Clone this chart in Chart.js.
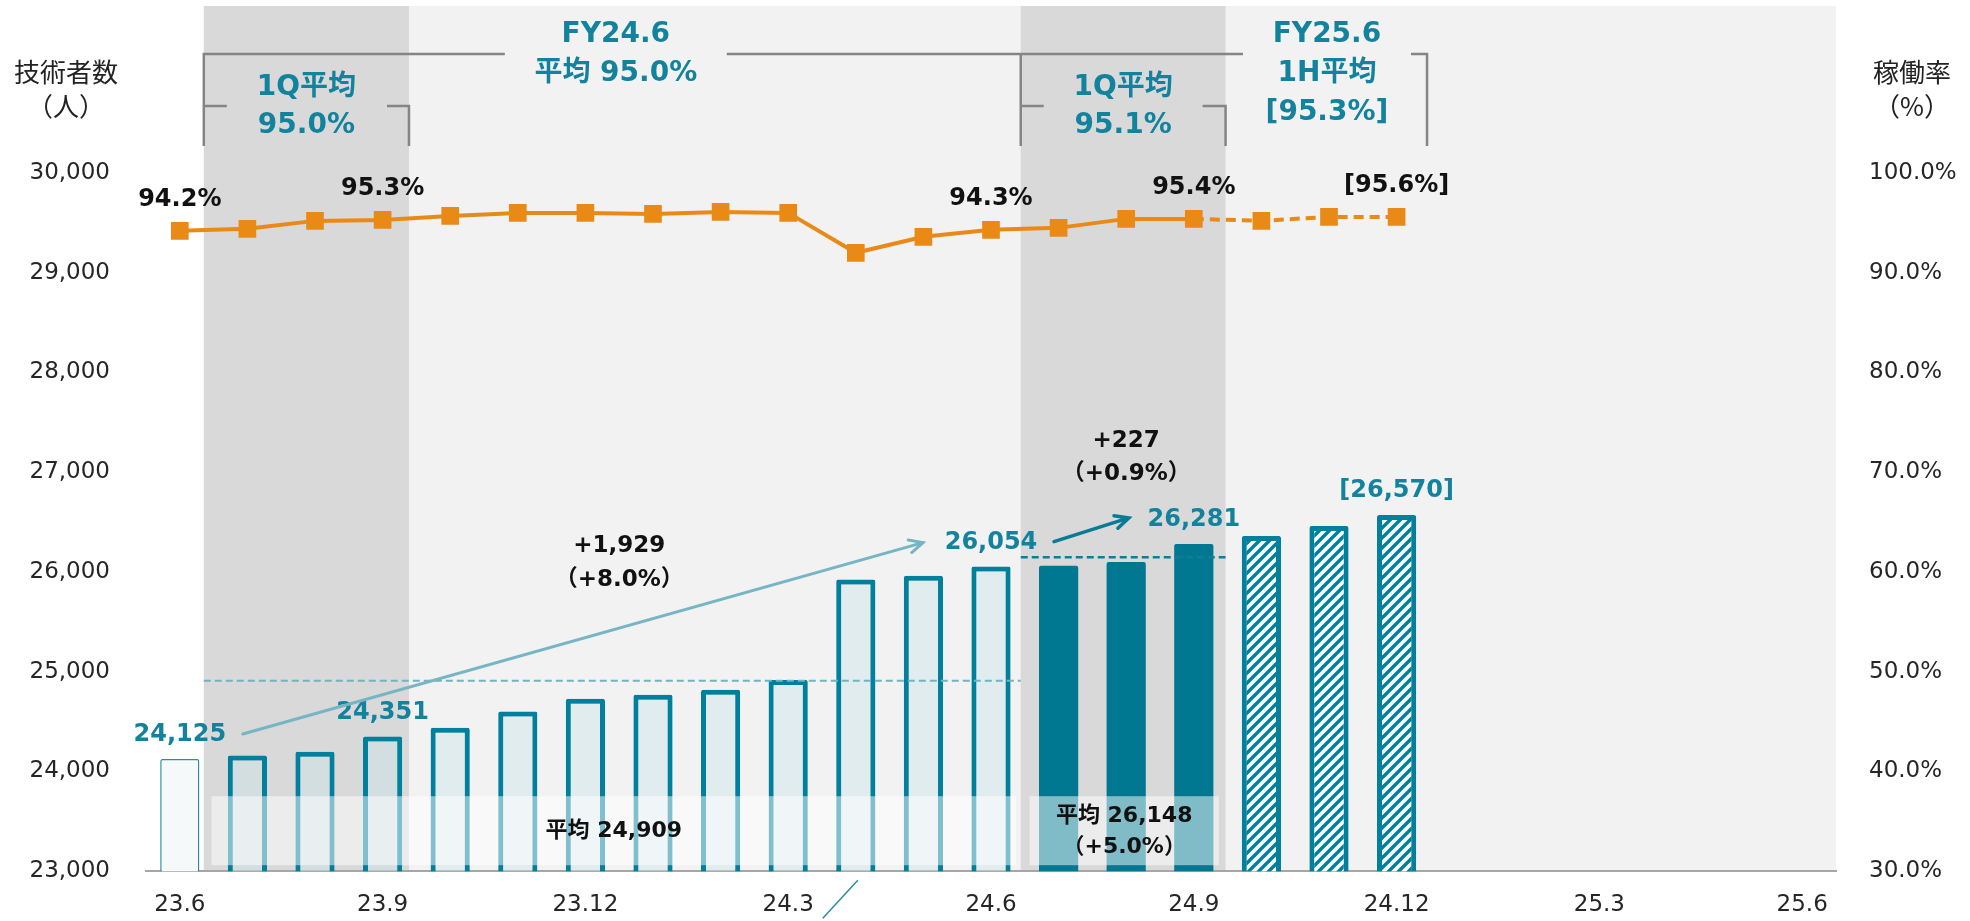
<!DOCTYPE html>
<html>
<head>
<meta charset="utf-8">
<script src="https://cdn.jsdelivr.net/npm/chart.js@4"></script>
<style>
  html, body { margin: 0; padding: 0; background: #fff; }
  #wrap { width: 1970px; height: 921px; }
</style>
</head>
<body>
<div id="wrap"><canvas id="c" width="1970" height="921"></canvas></div>
<script>
// 月次ラベル（23.6〜25.6）
const months = ['23.6', '23.7', '23.8', '23.9', '23.10', '23.11', '23.12', '24.1', '24.2', '24.3',
  '24.4', '24.5', '24.6', '24.7', '24.8', '24.9', '24.10', '24.11', '24.12',
  '25.1', '25.2', '25.3', '25.4', '25.5', '25.6'];

// 技術者数（人）: 24.10〜24.12 は見込み
const engineers = [24125, 24161, 24198, 24351, 24438, 24601, 24730, 24768, 24818, 24918,
  25924, 25961, 26054, 26062, 26101, 26281, 26361, 26461, 26570];

// 稼働率（%）: 24.10〜24.12 は見込み
const utilization = [94.2, 94.4, 95.2, 95.3, 95.7, 96.0, 96.0, 95.9, 96.1, 96.0,
  92.0, 93.6, 94.3, 94.5, 95.4, 95.4, 95.2, 95.6, 95.6];

const countTicks = [23000, 24000, 25000, 26000, 27000, 28000, 29000, 30000];
const rateTicks = [30, 40, 50, 60, 70, 80, 90, 100];

// 平均値（期間の開始・終了インデックス）
const avgFY24 = { from: 1, to: 12, value: 24909, label: ['平均 24,909'] };
const avg1H = { from: 13, to: 15, value: 26148, label: ['平均 26,148', '（+5.0%）'] };

const bracketFY24 = ['FY24.6', '平均 95.0%'];
const bracket1Q24 = ['1Q平均', '95.0%'];
const bracket1Q25 = ['1Q平均', '95.1%'];
const bracketFY25 = ['FY25.6', '1H平均', '[95.3%]'];

const countLabelIdx = [0, 3, 12, 15, 18];
const rateLabelIdx = [0, 3, 12, 15, 18];
const firstForecast = 16;

const TEAL = '#00809C';
const TEAL_FILL = '#007891';
const TEAL_TEXT = '#12829D';
const ORANGE = '#E98A17';
const BRACKET = '#858585';
const INK = '#111111';

const F = (size, bold) => (bold ? 'bold ' : '') + size + 'px "DejaVu Sans", "Noto Sans CJK JP", sans-serif';

// 斜線ハッチ（見込み）
const canvas = document.getElementById('c');
const hatch = (function () {
  const c = document.createElement('canvas');
  c.width = 10; c.height = 10;
  const g = c.getContext('2d');
  g.fillStyle = '#ffffff';
  g.fillRect(0, 0, 10, 10);
  g.strokeStyle = TEAL;
  g.lineWidth = 3.4;
  g.beginPath();
  g.moveTo(-5, 5); g.lineTo(5, -5);
  g.moveTo(0, 10); g.lineTo(10, 0);
  g.moveTo(5, 15); g.lineTo(15, 5);
  g.stroke();
  return canvas.getContext('2d').createPattern(c, 'repeat');
})();

const barBg = engineers.map((v, i) => {
  if (i === 0) return '#F5F9FA';
  if (i <= 12) return 'rgba(205,228,234,0.45)';
  if (i < firstForecast) return TEAL_FILL;
  return hatch;
});
const barBorderW = engineers.map((v, i) => i === 0 ? 1.5 : (i > 12 && i < firstForecast ? 0 : 5));
const barBorderC = engineers.map((v, i) => i === 0 ? '#2A8CA5' : TEAL);

function txt(ctx, s, x, y, font, color, align) {
  ctx.font = font;
  ctx.fillStyle = color;
  ctx.textAlign = align || 'center';
  ctx.textBaseline = 'middle';
  ctx.fillText(s, x, y);
}

function arrow(ctx, x1, y1, x2, y2, color, w) {
  const a = Math.atan2(y2 - y1, x2 - x1);
  const L = 15;
  ctx.save();
  ctx.strokeStyle = color;
  ctx.lineWidth = w;
  ctx.lineCap = 'round';
  ctx.beginPath();
  ctx.moveTo(x1, y1); ctx.lineTo(x2, y2);
  ctx.moveTo(x2 - L * Math.cos(a - 0.45), y2 - L * Math.sin(a - 0.45));
  ctx.lineTo(x2, y2);
  ctx.lineTo(x2 - L * Math.cos(a + 0.45), y2 - L * Math.sin(a + 0.45));
  ctx.stroke();
  ctx.restore();
}

function line(ctx, pts, color, w, dash) {
  ctx.save();
  ctx.strokeStyle = color;
  ctx.lineWidth = w;
  ctx.setLineDash(dash || []);
  ctx.beginPath();
  ctx.moveTo(pts[0], pts[1]);
  for (let i = 2; i < pts.length; i += 2) ctx.lineTo(pts[i], pts[i + 1]);
  ctx.stroke();
  ctx.restore();
}

// 網掛け・注記・括弧
const decor = {
  id: 'decor',
  geo(chart) {
    const x = chart.scales.x;
    const cw = x.getPixelForValue(1) - x.getPixelForValue(0);
    const px = f => x.getPixelForValue(0) + f * cw;
    return { px, e0: px(0.355), e1: px(3.39), e2: px(12.44), e3: px(15.47), e4: px(18.45) };
  },
  beforeDraw(chart) {
    const { ctx, chartArea: a } = chart;
    const g = this.geo(chart);
    ctx.save();
    ctx.fillStyle = '#F2F2F2';
    ctx.fillRect(g.e0, 6, a.right - g.e0, a.bottom - 6);
    ctx.fillStyle = '#D9D9D9';
    ctx.fillRect(g.e0, 6, g.e1 - g.e0, a.bottom - 6);
    ctx.fillRect(g.e2, 6, g.e3 - g.e2, a.bottom - 6);
    ctx.restore();
  },
  afterDatasetsDraw(chart) {
    const { ctx, chartArea: a, scales: { x, y, y1 } } = chart;
    const g = this.geo(chart);

    // 平均ボックス
    ctx.save();
    ctx.fillStyle = 'rgba(255,255,255,0.5)';
    ctx.fillRect(g.px(0.47), a.bottom - 75, g.px(12.37) - g.px(0.47), 69);
    ctx.fillRect(g.px(12.57), a.bottom - 75, g.px(15.37) - g.px(12.57), 69);
    ctx.restore();
    txt(ctx, avgFY24.label[0], (g.px(0.47) + g.px(12.37)) / 2, a.bottom - 40, F(22, true), INK);
    const c2 = (g.px(12.57) + g.px(15.37)) / 2;
    txt(ctx, avg1H.label[0], c2, a.bottom - 55, F(22, true), INK);
    txt(ctx, avg1H.label[1], c2, a.bottom - 24, F(22, true), INK);

    // 平均線
    line(ctx, [g.e0, y.getPixelForValue(avgFY24.value), g.e2, y.getPixelForValue(avgFY24.value)], '#72B3C2', 2, [7, 4]);
    line(ctx, [g.e2, y.getPixelForValue(avg1H.value), g.e3, y.getPixelForValue(avg1H.value)], '#0E7E98', 2.5, [7, 4]);

    // 技術者数ラベル
    const ly = i => y.getPixelForValue(engineers[i]) - 24;
    countLabelIdx.forEach(i => {
      const v = engineers[i].toLocaleString('en-US');
      const s = i >= firstForecast ? '[' + v + ']' : v;
      txt(ctx, s, x.getPixelForValue(i), ly(i), F(24, true), TEAL_TEXT);
    });

    // 稼働率ラベル
    rateLabelIdx.forEach(i => {
      const v = utilization[i].toFixed(1) + '%';
      const s = i >= firstForecast ? '[' + v + ']' : v;
      txt(ctx, s, x.getPixelForValue(i), y1.getPixelForValue(utilization[i]) - 31, F(24, true), INK);
    });

    // 増加矢印
    arrow(ctx, x.getPixelForValue(0) + 63, ly(0) - 1, x.getPixelForValue(12) - 68, ly(12), '#76B5C3', 3);
    arrow(ctx, x.getPixelForValue(12) + 63, ly(12) - 1, x.getPixelForValue(15) - 65, ly(15) - 2, '#0B7A94', 3.5);

    const d1 = engineers[12] - engineers[0];
    const d2 = engineers[15] - engineers[12];
    const ty = y.getPixelForValue(26300) + 4;
    txt(ctx, '+' + d1.toLocaleString('en-US'), g.px(6.5), ty, F(23, true), INK);
    txt(ctx, '（+' + (d1 / engineers[0] * 100).toFixed(1) + '%）', g.px(6.5), ty + 34, F(23, true), INK);
    txt(ctx, '+' + d2.toLocaleString('en-US'), x.getPixelForValue(14), ly(15) - 79, F(23, true), INK);
    txt(ctx, '（+' + (d2 / engineers[12] * 100).toFixed(1) + '%）', x.getPixelForValue(14), ly(15) - 46, F(23, true), INK);
  },
  afterDraw(chart) {
    const { ctx, chartArea: a, scales: { x } } = chart;
    const g = this.geo(chart);
    const top = 54, mid = 106, bot = 146;

    // 期間括弧
    const c1 = g.px(6.45), c4 = g.px(16.97);
    line(ctx, [g.e0, bot, g.e0, top, c1 - 111, top], BRACKET, 2.5);
    line(ctx, [c1 + 111, top, c4 - 84, top], BRACKET, 2.5);
    line(ctx, [g.e2, top, g.e2, bot], BRACKET, 2.5);
    line(ctx, [c4 + 84, top, g.e4, top, g.e4, bot], BRACKET, 2.5);
    line(ctx, [g.e0, mid, g.e0 + 23, mid], BRACKET, 2.5);
    line(ctx, [g.e1 - 22, mid, g.e1, mid, g.e1, bot], BRACKET, 2.5);
    line(ctx, [g.e2, mid, g.e2 + 23, mid], BRACKET, 2.5);
    line(ctx, [g.e3 - 23, mid, g.e3, mid, g.e3, bot], BRACKET, 2.5);

    txt(ctx, bracketFY24[0], c1, 35, F(28, true), TEAL_TEXT);
    txt(ctx, bracketFY24[1], c1, 74, F(28, true), TEAL_TEXT);
    txt(ctx, bracket1Q24[0], (g.e0 + g.e1) / 2, 88, F(28, true), TEAL_TEXT);
    txt(ctx, bracket1Q24[1], (g.e0 + g.e1) / 2, 126, F(28, true), TEAL_TEXT);
    txt(ctx, bracket1Q25[0], (g.e2 + g.e3) / 2, 88, F(28, true), TEAL_TEXT);
    txt(ctx, bracket1Q25[1], (g.e2 + g.e3) / 2, 126, F(28, true), TEAL_TEXT);
    txt(ctx, bracketFY25[0], c4, 35, F(28, true), TEAL_TEXT);
    txt(ctx, bracketFY25[1], c4, 74, F(28, true), TEAL_TEXT);
    txt(ctx, bracketFY25[2], c4, 113, F(28, true), TEAL_TEXT);

    // 軸タイトル
    const jp = '26px "Noto Sans CJK JP", sans-serif';
    txt(ctx, '技術者数', 66, 72, jp, '#222');
    txt(ctx, '（人）', 66, 106, jp, '#222');
    txt(ctx, '稼働率', 1912, 72, jp, '#222');
    txt(ctx, '（%）', 1912, 106, jp, '#222');

    // 下部の引出線
    const bx = x.getPixelForValue(10) + 2;
    line(ctx, [bx, a.bottom + 9, bx - 35, a.bottom + 47], '#2E8BA0', 1.5);
  }
};

new Chart(canvas, {
  type: 'bar',
  data: {
    labels: months,
    datasets: [
      {
        type: 'line',
        label: '稼働率',
        yAxisID: 'y1',
        data: utilization,
        borderColor: ORANGE,
        backgroundColor: ORANGE,
        borderWidth: 4,
        tension: 0,
        pointStyle: 'rect',
        pointRadius: 12.5,
        pointBackgroundColor: ORANGE,
        pointBorderColor: ORANGE,
        pointBorderWidth: 0,
        segment: {
          borderDash: ctx => ctx.p0DataIndex >= firstForecast - 1 ? [10, 6] : undefined
        },
        order: 0
      },
      {
        label: '技術者数',
        yAxisID: 'y',
        data: engineers,
        backgroundColor: barBg,
        borderColor: barBorderC,
        borderWidth: barBorderW,
        borderSkipped: false,
        borderRadius: 2,
        barPercentage: 0.58,
        categoryPercentage: 1,
        order: 1
      }
    ]
  },
  options: {
    responsive: false,
    devicePixelRatio: 1,
    animation: false,
    layout: { padding: { top: 173, left: 0, right: 0, bottom: 0 } },
    plugins: {
      legend: { display: false },
      tooltip: { enabled: false }
    },
    scales: {
      x: {
        grid: { display: false, drawTicks: false },
        border: { display: true, color: '#A6A6A6', width: 2 },
        ticks: {
          autoSkip: false,
          maxRotation: 0,
          padding: 20,
          color: '#262626',
          font: { family: '"DejaVu Sans"', size: 23 },
          callback: (v, i) => i % 3 === 0 ? months[i] : ''
        },
        afterFit: s => { s.height = 47; }
      },
      y: {
        position: 'left',
        min: countTicks[0],
        max: countTicks[countTicks.length - 1],
        afterBuildTicks: s => { s.ticks = countTicks.map(v => ({ value: v })); },
        grid: { display: false, drawTicks: false },
        border: { display: false },
        ticks: {
          padding: 36,
          color: '#262626',
          font: { family: '"DejaVu Sans"', size: 23 },
          callback: v => v.toLocaleString('en-US')
        },
        afterFit: s => { s.width = 146; }
      },
      y1: {
        position: 'right',
        min: rateTicks[0],
        max: rateTicks[rateTicks.length - 1],
        afterBuildTicks: s => { s.ticks = rateTicks.map(v => ({ value: v })); },
        grid: { display: false, drawTicks: false },
        border: { display: false },
        ticks: {
          padding: 33,
          color: '#262626',
          font: { family: '"DejaVu Sans"', size: 23 },
          callback: v => v.toFixed(1) + '%'
        },
        afterFit: s => { s.width = 134; }
      }
    }
  },
  plugins: [decor]
});
</script>
</body>
</html>
